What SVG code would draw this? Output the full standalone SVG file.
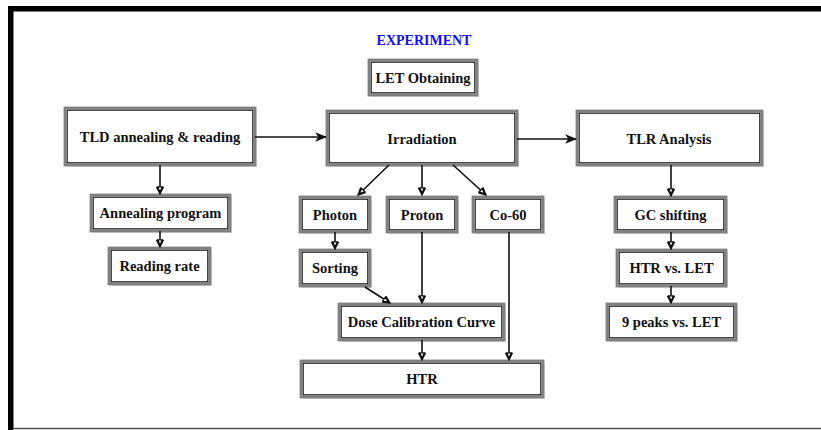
<svg xmlns="http://www.w3.org/2000/svg" width="821" height="430" viewBox="0 0 821 430">
  <style>
    .box-out { fill: #fff; stroke: #808080; stroke-width: 2.8; }
    .box-in { fill: none; stroke: #1a1a1a; stroke-width: 1.2; }
    .shadow { fill: #dcdcdc; }
    .lbl { font-family: "Liberation Serif", "Times New Roman", serif; font-weight: bold; font-size: 14.5px; fill: #111; text-anchor: middle; dominant-baseline: central; }
    .title { font-family: "Liberation Serif", "Times New Roman", serif; font-weight: bold; font-size: 14px; fill: #1010f0; text-anchor: middle; }
    .conn { stroke: #111; stroke-width: 1.6; fill: none; }
  </style>
  <defs>
    <marker id="open" viewBox="0 0 10 10" refX="9" refY="5" markerWidth="9" markerHeight="9" markerUnits="userSpaceOnUse" orient="auto">
      <path d="M1,1 L9,5 L1,9 M1,2.5 L7,5 L1,7.5 Z" fill="#fff" stroke="#111" stroke-width="1.4"/>
    </marker>
    <marker id="solid" viewBox="0 0 10 10" refX="9" refY="5" markerWidth="12" markerHeight="12" markerUnits="userSpaceOnUse" orient="auto">
      <path d="M0,1 L10,5 L0,9 L2.5,5 Z" fill="#111"/>
    </marker>
  </defs>

  <rect width="821" height="430" fill="#fff"/>
  <!-- outer frame -->
  <g id="frame">
    <rect x="8" y="6" width="813" height="5.5" fill="#000"/>
    <rect x="8" y="6" width="5.5" height="424" fill="#000"/>
    <line x1="13" y1="428.5" x2="821" y2="428.5" stroke="#555" stroke-width="1.5"/>
  </g>

  <text class="title" x="424" y="45">EXPERIMENT</text>

  <g id="let-obtaining">
    <rect class="shadow" x="371" y="62" width="108" height="35"/>
    <rect class="box-out" x="369" y="60" width="108" height="35"/>
    <rect class="box-in" x="371.2" y="62.2" width="103.6" height="30.6"/>
    <text class="lbl" x="423" y="77.5">LET Obtaining</text>
  </g>

  <g id="tld">
    <rect class="shadow" x="67" y="110" width="190" height="57"/>
    <rect class="box-out" x="65" y="108" width="190" height="57"/>
    <rect class="box-in" x="67.2" y="110.2" width="185.6" height="52.6"/>
    <text class="lbl" x="160" y="137">TLD annealing &amp; reading</text>
  </g>

  <g id="annealing-program">
    <rect class="shadow" x="93" y="197" width="139" height="36"/>
    <rect class="box-out" x="91" y="195" width="139" height="36"/>
    <rect class="box-in" x="93.2" y="197.2" width="134.6" height="31.6"/>
    <text class="lbl" x="160.5" y="213">Annealing program</text>
  </g>

  <g id="reading-rate">
    <rect class="shadow" x="111" y="250" width="101" height="36"/>
    <rect class="box-out" x="109" y="248" width="101" height="36"/>
    <rect class="box-in" x="111.2" y="250.2" width="96.6" height="31.6"/>
    <text class="lbl" x="159.5" y="266">Reading rate</text>
  </g>

  <g id="irradiation">
    <rect class="shadow" x="329" y="113" width="190" height="54"/>
    <rect class="box-out" x="327" y="111" width="190" height="54"/>
    <rect class="box-in" x="329.2" y="113.2" width="185.6" height="49.6"/>
    <text class="lbl" x="422" y="139">Irradiation</text>
  </g>

  <g id="tlr-analysis">
    <rect class="shadow" x="579" y="113" width="185" height="54"/>
    <rect class="box-out" x="577" y="111" width="185" height="54"/>
    <rect class="box-in" x="579.2" y="113.2" width="180.6" height="49.6"/>
    <text class="lbl" x="669" y="139">TLR Analysis</text>
  </g>

  <g id="photon">
    <rect class="shadow" x="302" y="199" width="70" height="35"/>
    <rect class="box-out" x="300" y="197" width="70" height="35"/>
    <rect class="box-in" x="302.2" y="199.2" width="65.6" height="30.6"/>
    <text class="lbl" x="335" y="215">Photon</text>
  </g>

  <g id="proton">
    <rect class="shadow" x="389" y="199" width="70" height="35"/>
    <rect class="box-out" x="387" y="197" width="70" height="35"/>
    <rect class="box-in" x="389.2" y="199.2" width="65.6" height="30.6"/>
    <text class="lbl" x="422" y="215">Proton</text>
  </g>

  <g id="co60">
    <rect class="shadow" x="475" y="199" width="70" height="35"/>
    <rect class="box-out" x="473" y="197" width="70" height="35"/>
    <rect class="box-in" x="475.2" y="199.2" width="65.6" height="30.6"/>
    <text class="lbl" x="508" y="215">Co-60</text>
  </g>

  <g id="sorting">
    <rect class="shadow" x="302" y="252" width="70" height="36"/>
    <rect class="box-out" x="300" y="250" width="70" height="36"/>
    <rect class="box-in" x="302.2" y="252.2" width="65.6" height="31.6"/>
    <text class="lbl" x="335" y="268">Sorting</text>
  </g>

  <g id="dose-calibration">
    <rect class="shadow" x="341" y="306" width="165" height="36"/>
    <rect class="box-out" x="339" y="304" width="165" height="36"/>
    <rect class="box-in" x="341.2" y="306.2" width="160.6" height="31.6"/>
    <text class="lbl" x="421.5" y="322">Dose Calibration Curve</text>
  </g>

  <g id="htr">
    <rect class="shadow" x="303" y="363" width="242" height="36"/>
    <rect class="box-out" x="301" y="361" width="242" height="36"/>
    <rect class="box-in" x="303.2" y="363.2" width="237.6" height="31.6"/>
    <text class="lbl" x="422" y="379">HTR</text>
  </g>

  <g id="gc-shifting">
    <rect class="shadow" x="617" y="199" width="111" height="35"/>
    <rect class="box-out" x="615" y="197" width="111" height="35"/>
    <rect class="box-in" x="617.2" y="199.2" width="106.6" height="30.6"/>
    <text class="lbl" x="670.5" y="215">GC shifting</text>
  </g>

  <g id="htr-vs-let">
    <rect class="shadow" x="619" y="252" width="109" height="36"/>
    <rect class="box-out" x="617" y="250" width="109" height="36"/>
    <rect class="box-in" x="619.2" y="252.2" width="104.6" height="31.6"/>
    <text class="lbl" x="671.5" y="268">HTR vs. LET</text>
  </g>

  <g id="peaks-vs-let">
    <rect class="shadow" x="609" y="306" width="129" height="36"/>
    <rect class="box-out" x="607" y="304" width="129" height="36"/>
    <rect class="box-in" x="609.2" y="306.2" width="124.6" height="31.6"/>
    <text class="lbl" x="671.5" y="322">9 peaks vs. LET</text>
  </g>

  <g id="connectors">
    <line class="conn" x1="255" y1="137" x2="326" y2="137" marker-end="url(#solid)"/>
    <line class="conn" x1="517" y1="139" x2="576" y2="139" marker-end="url(#solid)"/>
    <line class="conn" x1="160" y1="165" x2="160" y2="194" marker-end="url(#open)"/>
    <line class="conn" x1="160" y1="231" x2="160" y2="247" marker-end="url(#open)"/>
    <line class="conn" x1="389" y1="165" x2="358" y2="195" marker-end="url(#open)"/>
    <line class="conn" x1="422" y1="165" x2="422" y2="195" marker-end="url(#open)"/>
    <line class="conn" x1="453" y1="165" x2="486" y2="195" marker-end="url(#open)"/>
    <line class="conn" x1="335" y1="232" x2="335" y2="249" marker-end="url(#open)"/>
    <line class="conn" x1="365" y1="287" x2="390" y2="303" marker-end="url(#open)"/>
    <line class="conn" x1="422" y1="232" x2="422" y2="303" marker-end="url(#open)"/>
    <line class="conn" x1="509" y1="232" x2="509" y2="360" marker-end="url(#open)"/>
    <line class="conn" x1="422" y1="340" x2="422" y2="360" marker-end="url(#open)"/>
    <line class="conn" x1="671" y1="165" x2="671" y2="196" marker-end="url(#open)"/>
    <line class="conn" x1="671" y1="232" x2="671" y2="249" marker-end="url(#open)"/>
    <line class="conn" x1="671" y1="286" x2="671" y2="303" marker-end="url(#open)"/>
  </g>
</svg>
